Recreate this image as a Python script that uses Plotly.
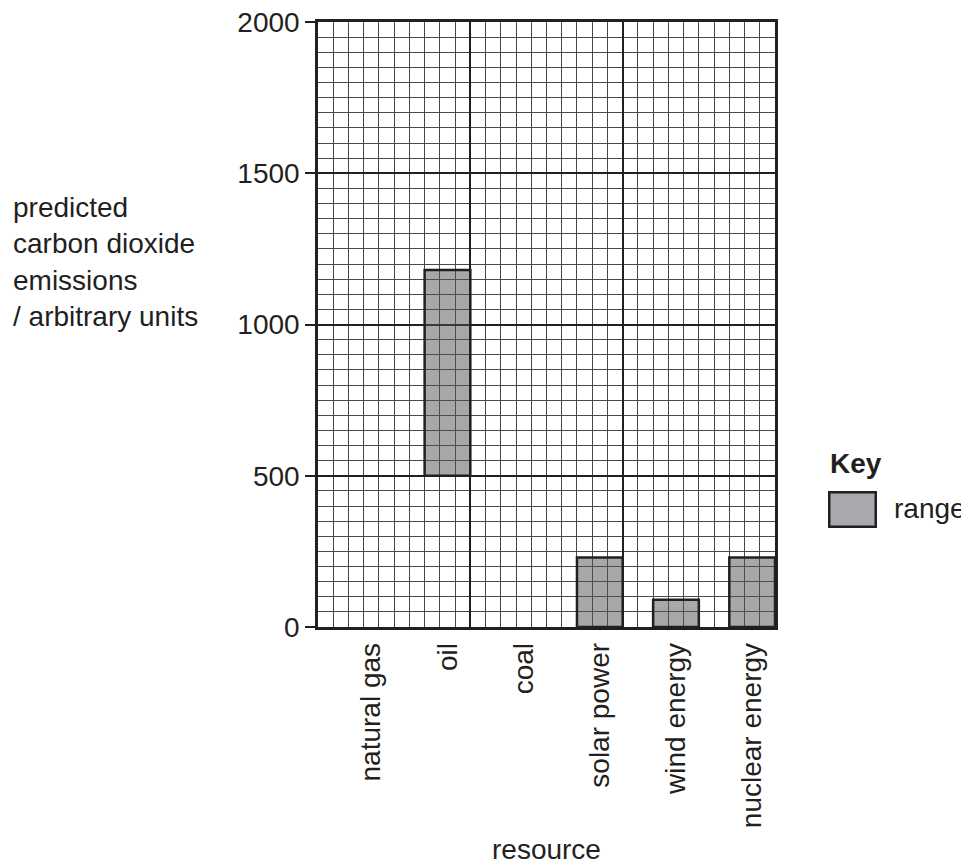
import plotly.graph_objects as go

categories = ["natural gas", "oil", "coal", "solar power", "wind energy", "nuclear energy"]
range_low = [None, 500, None, 0, 0, 0]
range_high = [None, 1180, None, 230, 90, 230]
y_ticks = [0, 500, 1000, 1500, 2000]

# layout of the squared paper: each category spans 5 small squares,
# the range bar occupies the right-hand 3 squares
SQ_PER_CAT = 5
BAR_W = 3
n = len(categories)
xpos = [i * SQ_PER_CAT + SQ_PER_CAT - BAR_W / 2 for i in range(n)]
heights = [None if lo is None else hi - lo for lo, hi in zip(range_low, range_high)]

INK = "#231f20"
MINOR = "#4a4a4a"
FONT = "Liberation Sans, Arial, sans-serif"
FS = 28

fig = go.Figure()
fig.add_trace(go.Bar(
    x=xpos, y=heights, base=range_low, width=BAR_W,
    marker=dict(color="rgba(80,82,86,0.5)", line=dict(color=INK, width=2.5)),
    name="range", showlegend=False, hoverinfo="skip",
))
# helper trace so the overlaid axis (major vertical grid) is drawn
fig.add_trace(go.Scatter(x=[None], y=[None], xaxis="x2", yaxis="y",
                         showlegend=False, hoverinfo="skip"))

xmax = n * SQ_PER_CAT
fig.update_layout(
    width=961, height=858,
    margin=dict(l=310, r=194, t=14, b=239, autoexpand=False),
    paper_bgcolor="white", plot_bgcolor="white",
    font=dict(family=FONT, size=FS, color=INK),
    showlegend=False,
    xaxis=dict(
        range=[0, xmax], tickmode="array", tickvals=xpos, ticktext=categories,
        tickangle=-90, ticks="", showgrid=False, zeroline=False,
        showline=True, linecolor=INK, linewidth=2.5, mirror=True,
        tickfont=dict(size=FS, color=INK), ticklabelstandoff=2,
        ticklabeloverflow="allow", automargin=False,
        minor=dict(tickmode="linear", tick0=0, dtick=1, showgrid=True,
                   gridcolor=MINOR, gridwidth=1, ticks=""),
    ),
    xaxis2=dict(
        overlaying="x", range=[0, xmax], tickmode="linear", tick0=0, dtick=10,
        showgrid=True, gridcolor=INK, gridwidth=2, showticklabels=False,
        ticks="", zeroline=False, showline=False, side="bottom", automargin=False,
    ),
    yaxis=dict(
        range=[0, 2000], tickmode="array", tickvals=y_ticks,
        ticktext=[str(v) for v in y_ticks],
        ticks="outside", ticklen=10, tickwidth=2, tickcolor=INK,
        showgrid=True, gridcolor=INK, gridwidth=2, zeroline=False,
        showline=True, linecolor=INK, linewidth=2.5, mirror=True,
        tickfont=dict(size=FS, color=INK), ticklabeloverflow="allow",
        automargin=False,
        minor=dict(tickmode="linear", tick0=0, dtick=50, showgrid=True,
                   gridcolor=MINOR, gridwidth=1, ticks=""),
    ),
    annotations=[
        dict(text="predicted<br>carbon dioxide<br>emissions<br>/ arbitrary units",
             xref="paper", yref="paper", x=-0.672, y=0.603,
             xanchor="left", yanchor="middle", align="left",
             showarrow=False, font=dict(size=FS, color=INK)),
        dict(text="resource", xref="paper", yref="paper", x=0.5, y=-0.367,
             xanchor="center", yanchor="middle", showarrow=False,
             font=dict(size=FS, color=INK)),
        dict(text="<b>Key</b>", xref="paper", yref="paper", x=1.116, y=0.270,
             xanchor="left", yanchor="middle", showarrow=False,
             font=dict(size=FS, color=INK)),
        dict(text=" ", xref="paper", yref="paper", x=1.1685, y=0.1944,
             xanchor="center", yanchor="middle", showarrow=False,
             width=42, height=30, bgcolor="#a7a9ac", bordercolor=INK,
             borderwidth=2.5, borderpad=1, font=dict(size=10)),
        dict(text="range", xref="paper", yref="paper", x=1.255, y=0.196,
             xanchor="left", yanchor="middle", showarrow=False,
             font=dict(size=FS, color=INK)),
    ],
)

fig.write_html("out.html")
